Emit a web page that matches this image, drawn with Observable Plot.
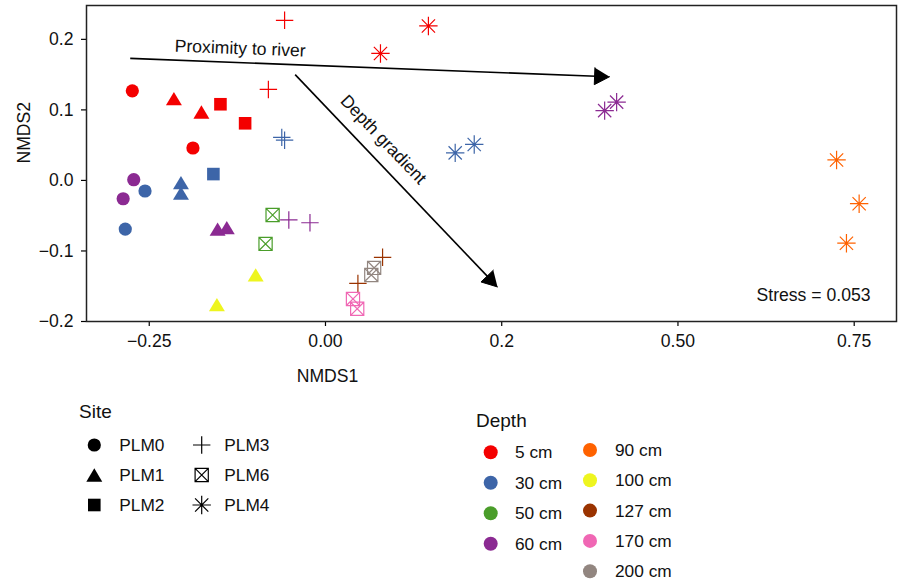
<!DOCTYPE html>
<html><head><meta charset="utf-8">
<script src="https://cdn.jsdelivr.net/npm/d3@7"></script>
<script src="https://cdn.jsdelivr.net/npm/@observablehq/plot@0.6"></script>
<style>
body{margin:0;background:#fff;font-family:"Liberation Sans",Arial,sans-serif;}
#wrap{position:relative;width:898px;height:580px;overflow:hidden;}
#legend{position:absolute;left:0;top:390px;}
</style></head><body><div id="wrap"><div id="chart"></div><svg id="legend" width="898" height="190"></svg></div>
<script>
// ---- data ----
const sites = ["PLM0","PLM0","PLM1","PLM1","PLM2","PLM2","PLM3","PLM3","PLM4","PLM4",
  "PLM0","PLM0","PLM1","PLM1","PLM2","PLM3","PLM3","PLM4","PLM4",
  "PLM6","PLM6",
  "PLM0","PLM0","PLM1","PLM1","PLM3","PLM3","PLM4","PLM4",
  "PLM4","PLM4","PLM4",
  "PLM1","PLM1",
  "PLM3","PLM3",
  "PLM6","PLM6",
  "PLM6","PLM6"];
const depths = ["5 cm","5 cm","5 cm","5 cm","5 cm","5 cm","5 cm","5 cm","5 cm","5 cm",
  "30 cm","30 cm","30 cm","30 cm","30 cm","30 cm","30 cm","30 cm","30 cm",
  "50 cm","50 cm",
  "60 cm","60 cm","60 cm","60 cm","60 cm","60 cm","60 cm","60 cm",
  "90 cm","90 cm","90 cm",
  "100 cm","100 cm",
  "127 cm","127 cm",
  "170 cm","170 cm",
  "200 cm","200 cm"];
const nmds1 = [-0.274,-0.188,-0.215,-0.176,-0.149,-0.114,-0.058,-0.081,0.146,0.078,
  -0.256,-0.284,-0.205,-0.205,-0.159,-0.062,-0.058,0.184,0.211,
  -0.075,-0.085,
  -0.272,-0.287,-0.153,-0.140,-0.052,-0.022,0.396,0.413,
  0.725,0.757,0.739,
  -0.154,-0.099,
  0.081,0.046,
  0.039,0.045,
  0.069,0.065];
const nmds2 = [0.127,0.046,0.116,0.097,0.108,0.081,0.227,0.129,0.219,0.180,
  -0.015,-0.069,-0.003,-0.018,0.009,0.061,0.057,0.039,0.051,
  -0.049,-0.090,
  0.001,-0.026,-0.069,-0.067,-0.056,-0.060,0.099,0.111,
  0.029,-0.033,-0.089,
  -0.176,-0.134,
  -0.109,-0.146,
  -0.168,-0.182,
  -0.124,-0.134];

const siteOrder = ["PLM0","PLM1","PLM2","PLM3","PLM6","PLM4"];
const depthOrder = ["5 cm","30 cm","50 cm","60 cm","90 cm","100 cm","127 cm","170 cm","200 cm"];
const depthColors = ["#f40000","#3d65a8","#4a9d2a","#8b2a92","#ff6200","#eef51f","#9a3300","#f067b4","#928680"];

const xTicks = [-0.25, 0, 0.25, 0.5, 0.75];
const xTickLabels = ["−0.25","0.00","0.2","0.50","0.75"];
const yTicks = [-0.2, -0.1, 0, 0.1, 0.2];
const yTickLabels = ["−0.2","−0.1","0.0","0.1","0.2"];

const arrowNames = ["Proximity to river","Depth gradient"];
const arrowX1 = [-0.277, -0.043];
const arrowY1 = [0.173, 0.150];
const arrowX2 = [0.403, 0.244];
const arrowY2 = [0.147, -0.151];
const arrowLabelX = [-0.121, 0.082];
const arrowLabelY = [0.187, 0.058];
const stressText = "Stress = 0.053";

// ---- layout ----
const W = 898, H = 390, mL = 86, mR = 2, mT = 5, mB = 69;
const xDomain = [-0.339, 0.81], yDomain = [-0.2, 0.248];
const kx = (W - mL - mR) / (xDomain[1] - xDomain[0]);
const ky = (H - mT - mB) / (yDomain[1] - yDomain[0]);
const FS = 17.6;

const points = nmds1.map((x, i) => ({x, y: nmds2[i], site: sites[i], depth: depths[i]}));

// ---- symbols ----
const rad = size => Math.sqrt(size / Math.PI);
const symCircle = {draw(c, size){ const s = rad(size); c.moveTo(s,0); c.arc(0,0,s,0,2*Math.PI); c.closePath(); }};
const symTriangle = {draw(c, size){ const s = rad(size); c.moveTo(0,-s*0.95); c.lineTo(s*1.14,s*0.95); c.lineTo(-s*1.14,s*0.95); c.closePath(); }};
const symSquare = {draw(c, size){ const s = rad(size); c.rect(-s,-s,2*s,2*s); }};
const symPlus = {draw(c, size){ const s = rad(size); c.moveTo(-s,0); c.lineTo(s,0); c.moveTo(0,-s); c.lineTo(0,s); }};
const symBoxX = {draw(c, size){ const s = rad(size); c.rect(-s,-s,2*s,2*s); c.moveTo(-s,-s); c.lineTo(s,s); c.moveTo(s,-s); c.lineTo(-s,s); }};
const symStar = {draw(c, size){ const s = rad(size); const d = s*0.72;
  c.moveTo(-s,0); c.lineTo(s,0); c.moveTo(0,-s); c.lineTo(0,s);
  c.moveTo(-d,-d); c.lineTo(d,d); c.moveTo(d,-d); c.lineTo(-d,d); }};
const siteSym = {
  PLM0: {sym: symCircle, r: 6.6, filled: true},
  PLM1: {sym: symTriangle, r: 7, filled: true},
  PLM2: {sym: symSquare, r: 6.3, filled: true},
  PLM3: {sym: symPlus, r: 8.7, filled: false},
  PLM6: {sym: symBoxX, r: 6.6, filled: false},
  PLM4: {sym: symStar, r: 9.2, filled: false}
};

// ---- arrows (heads derived in pixel space) ----
const headL = 15, headW = 8.5;
const shafts = [], heads = [], arrowLabels = [];
arrowNames.forEach((name, i) => {
  const dxp = (arrowX2[i] - arrowX1[i]) * kx, dyp = -(arrowY2[i] - arrowY1[i]) * ky;
  const len = Math.hypot(dxp, dyp), ux = dxp / len, uy = dyp / len;
  const toD = (px, py) => [px / kx, -py / ky];
  const [bx, by] = toD(-ux * headL, -uy * headL);
  const [nx, ny] = toD(-uy * headW, ux * headW);
  shafts.push({x1: arrowX1[i], y1: arrowY1[i], x2: arrowX2[i] + bx * 0.9, y2: arrowY2[i] + by * 0.9});
  heads.push({a: name, x: arrowX2[i], y: arrowY2[i]});
  heads.push({a: name, x: arrowX2[i] + bx + nx, y: arrowY2[i] + by + ny});
  heads.push({a: name, x: arrowX2[i] + bx - nx, y: arrowY2[i] + by - ny});
  arrowLabels.push({text: name, x: arrowLabelX[i], y: arrowLabelY[i], rotate: Math.atan2(dyp, dxp) * 180 / Math.PI});
});

const xLab = new Map(xTicks.map((t, i) => [t, xTickLabels[i]]));
const yLab = new Map(yTicks.map((t, i) => [t, yTickLabels[i]]));

const dotMarks = siteOrder.map(s => {
  const o = siteSym[s];
  const d = points.filter(p => p.site === s);
  return o.filled
    ? Plot.dot(d, {x: "x", y: "y", fill: "depth", symbol: o.sym, r: o.r, stroke: "none"})
    : Plot.dot(d, {x: "x", y: "y", stroke: "depth", fill: "none", symbol: o.sym, r: o.r, strokeWidth: 1.2});
});

const chart = Plot.plot({
  width: W, height: H,
  marginLeft: mL, marginRight: mR, marginTop: mT, marginBottom: mB,
  style: {fontFamily: "'Liberation Sans', Arial, sans-serif", fontSize: FS + "px", color: "#000", background: "#fff"},
  x: {domain: xDomain},
  y: {domain: yDomain},
  color: {domain: depthOrder, range: depthColors},
  marks: [
    Plot.axisX({ticks: xTicks, tickFormat: d => xLab.get(d), tickSize: 5, tickPadding: 8, strokeWidth: 1.2, label: null, fontSize: FS, fill: "#111"}),
    Plot.axisY({ticks: yTicks, tickFormat: d => yLab.get(d), tickSize: 5, tickPadding: 8, strokeWidth: 1.2, label: null, fontSize: FS, fill: "#111"}),
    Plot.link(shafts, {x1: "x1", y1: "y1", x2: "x2", y2: "y2", stroke: "#000", strokeWidth: 1.6}),
    Plot.line(heads, {x: "x", y: "y", z: "a", fill: "#000", stroke: "#000", strokeWidth: 1}),
    Plot.text(arrowLabels, {x: "x", y: "y", text: "text", rotate: "rotate", fontSize: FS, fill: "#111", textAnchor: "middle", lineAnchor: "middle"}),
    ...dotMarks,
    Plot.text([stressText], {frameAnchor: "bottom-right", dx: -26, dy: -26, textAnchor: "end", lineAnchor: "middle", fontSize: FS, fill: "#111"}),
    Plot.text(["NMDS1"], {frameAnchor: "bottom", dx: -164, dy: 55, lineAnchor: "middle", fontSize: FS, fill: "#111"}),
    Plot.text(["NMDS2"], {frameAnchor: "left", dx: -62, rotate: -90, lineAnchor: "middle", fontSize: FS, fill: "#111"}),
    Plot.frame({stroke: "#222", strokeWidth: 1.5})
  ]
});
document.getElementById("chart").appendChild(chart);

// ---- legends ----
const L = d3.select("#legend").style("font-family", "'Liberation Sans', Arial, sans-serif");
const pathOf = (sym, r) => { const p = d3.path(); sym.draw(p, Math.PI * r * r); return p.toString(); };

L.append("text").attr("x", 79).attr("y", 21.7).attr("dy", "0.35em").attr("font-size", 19).attr("fill", "#111").text("Site");
const siteMX = [94.3, 201.7], siteTX = [119.3, 224.3];
siteOrder.forEach((s, i) => {
  const col = Math.floor(i / 3), row = i % 3, y = 55 + row * 30;
  const o = siteSym[s];
  const g = L.append("path").attr("d", pathOf(o.sym, o.r)).attr("transform", `translate(${siteMX[col]},${y})`);
  if (o.filled) g.attr("fill", "#000"); else g.attr("fill", "none").attr("stroke", "#000").attr("stroke-width", 1.2);
  L.append("text").attr("x", siteTX[col]).attr("y", y).attr("dy", "0.35em").attr("font-size", 17.3).attr("fill", "#111").text(s);
});

L.append("text").attr("x", 476).attr("y", 30).attr("dy", "0.35em").attr("font-size", 19).attr("fill", "#111").text("Depth");
const depMX = [490.7, 590], depTX = [515, 615];
depthOrder.forEach((d, i) => {
  const col = i < 4 ? 0 : 1, row = i < 4 ? i : i - 4;
  const y = col === 0 ? 62.3 + row * 30.5 : 60 + row * 30.3;
  L.append("circle").attr("cx", depMX[col]).attr("cy", y).attr("r", 7).attr("fill", depthColors[i]);
  L.append("text").attr("x", depTX[col]).attr("y", y).attr("dy", "0.35em").attr("font-size", 17.3).attr("fill", "#111").text(d);
});
</script></body></html>
